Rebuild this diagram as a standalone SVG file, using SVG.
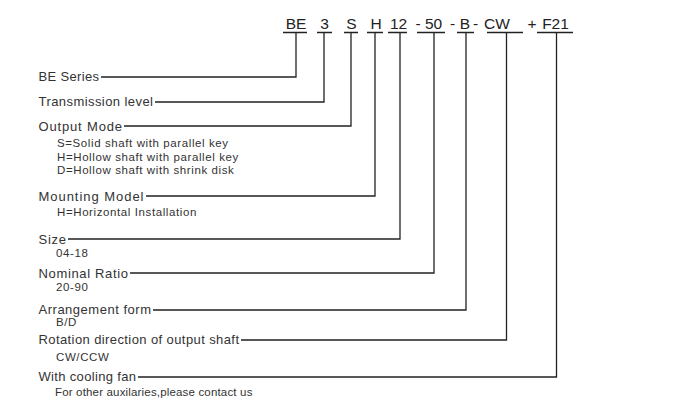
<svg xmlns="http://www.w3.org/2000/svg" width="678" height="415" viewBox="0 0 678 415">
<style>
.code{font-family:"Liberation Sans",Arial,sans-serif;font-size:15.5px;fill:#222;text-anchor:middle}
.lbl{font-family:"Liberation Sans",Arial,sans-serif;font-size:13px;fill:#333}
.sub{font-family:"Liberation Sans",Arial,sans-serif;font-size:11.5px;letter-spacing:0.6px;fill:#333}
.ln{fill:none;stroke:#222;stroke-width:1.3}
</style>
<rect width="678" height="415" fill="#fff"/>
<g id="code">
<text class="code" x="296" y="28.5">BE</text>
<text class="code" x="324.5" y="28.5">3</text>
<text class="code" x="351.5" y="28.5">S</text>
<text class="code" x="376" y="28.5">H</text>
<text class="code" x="398.5" y="28.5">12</text>
<text class="code" x="418" y="28.5">-</text>
<text class="code" x="433.5" y="28.5">50</text>
<text class="code" x="452.5" y="28.5">-</text>
<text class="code" x="465" y="28.5">B</text>
<text class="code" x="475.5" y="28.5">-</text>
<text class="code" x="497" y="28.5">CW</text>
<text class="code" x="532" y="28.5">+</text>
<text class="code" x="555.5" y="28.5">F21</text>
</g>
<g id="connectors" class="ln">
<path d="M283 32.5H307M296 32.5V77H101"/>
<path d="M317 32.5H332M324 32.5V102H155"/>
<path d="M344 32.5H358M351 32.5V126H124"/>
<path d="M367 32.5H383M375 32.5V196H146"/>
<path d="M388 32.5H407M400 32.5V239H68"/>
<path d="M417 32.5H445M434 32.5V273H130"/>
<path d="M457 32.5H474M466 32.5V310H153"/>
<path d="M487 32.5H523M506.5 32.5V340H241"/>
<path d="M537 32.5H573M556.5 32.5V377H138"/>
</g>
<g id="n-series"><text class="lbl" x="38.5" y="81" textLength="60.5" lengthAdjust="spacing">BE Series</text></g>
<g id="n-level"><text class="lbl" x="38.5" y="106" textLength="114.5" lengthAdjust="spacing">Transmission level</text></g>
<g id="n-output">
<text class="lbl" x="38.5" y="130.5" textLength="83.5" lengthAdjust="spacing">Output Mode</text>
<text class="sub" x="57" y="147">S=Solid shaft with parallel key</text>
<text class="sub" x="57" y="160.5">H=Hollow shaft with parallel key</text>
<text class="sub" x="57" y="174">D=Hollow shaft with shrink disk</text>
</g>
<g id="n-mounting">
<text class="lbl" x="38.5" y="200.5" textLength="105" lengthAdjust="spacing">Mounting Model</text>
<text class="sub" x="57" y="215.5">H=Horizontal Installation</text>
</g>
<g id="n-size">
<text class="lbl" x="38.5" y="243.5" textLength="27.5" lengthAdjust="spacing">Size</text>
<text class="sub" x="56" y="256.5">04-18</text>
</g>
<g id="n-ratio">
<text class="lbl" x="38.5" y="277.5" textLength="89.5" lengthAdjust="spacing">Nominal Ratio</text>
<text class="sub" x="56" y="290.5">20-90</text>
</g>
<g id="n-arrangement">
<text class="lbl" x="38.5" y="314" textLength="112.5" lengthAdjust="spacing">Arrangement form</text>
<text class="sub" x="56" y="326">B/D</text>
</g>
<g id="n-rotation">
<text class="lbl" x="38.5" y="344" textLength="200.5" lengthAdjust="spacing">Rotation direction of output shaft</text>
<text class="sub" x="56" y="360.5">CW/CCW</text>
</g>
<g id="n-fan">
<text class="lbl" x="38.5" y="381" textLength="97.5" lengthAdjust="spacing">With cooling fan</text>
<text class="sub" x="55" y="395.5" textLength="198" lengthAdjust="spacing">For other auxilaries,please contact us</text>
</g>
</svg>
